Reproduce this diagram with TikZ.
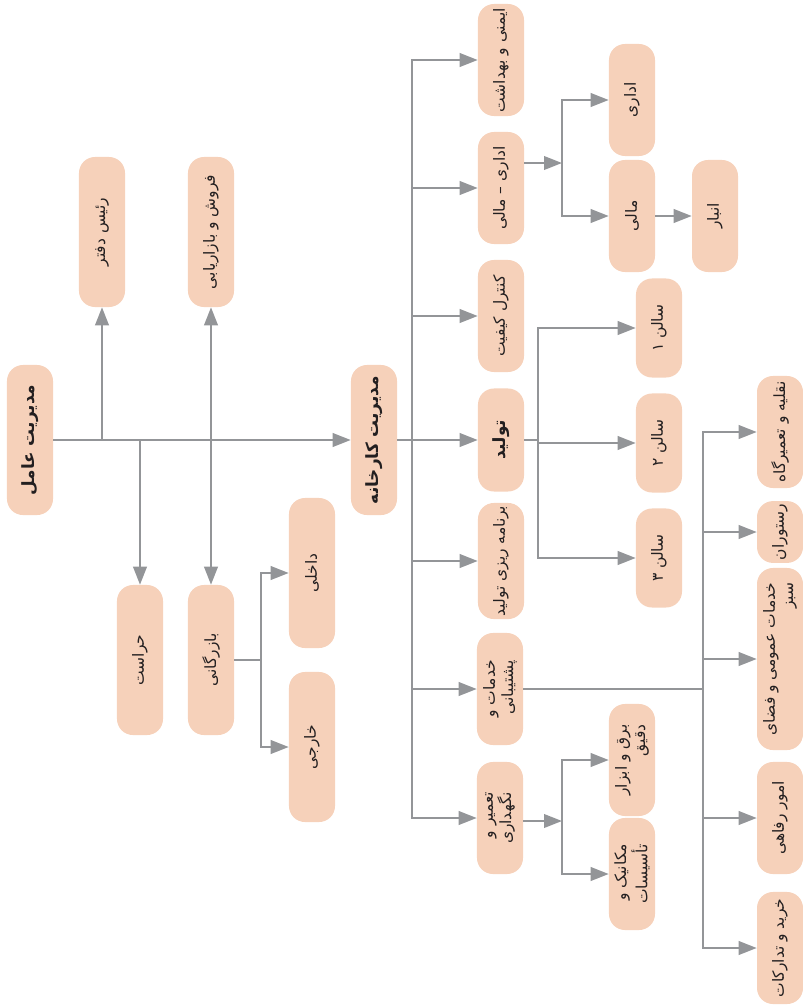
\documentclass[tikz,border=0pt]{standalone}
\usepackage{fontspec}
\newfontfamily\fa[Script=Arabic]{DejaVu Sans}
\TeXXeTstate=1
\definecolor{peach}{HTML}{F6D1BA}
\definecolor{wire}{HTML}{939598}
\definecolor{ink}{HTML}{231F20}
\usetikzlibrary{arrows.meta, positioning}
\newcommand{\rl}[1]{\beginR #1\endR}
\tikzset{
  unit/.style={fill=peach, rounded corners=4mm, rotate=90, align=right, text=ink,
               font=\fa\fontsize{11}{13}\selectfont, minimum height=11.5mm, minimum width=28mm, inner sep=2pt},
  tall/.style={minimum width=37.5mm},
  hall/.style={minimum width=24.75mm},
  head/.style={font=\fa\bfseries\fontsize{12}{14}\selectfont},
  flow/.style={-{Triangle[length=4.5mm,width=3.4mm]}, line width=1.4pt, color=wire},
  twoway/.style={{Triangle[length=4.5mm,width=3.4mm]}-{Triangle[length=4.5mm,width=3.4mm]}, line width=1.4pt, color=wire},
  link/.style={line width=1.4pt, color=wire},
}
\begin{document}
\begin{tikzpicture}[x=0.025cm,y=-0.025cm]
\useasboundingbox (0,0) rectangle (803,1008);
\node[unit,tall,head] (gm) at (30,440) {\rl{مدیریت عامل}};
\node[unit,tall] (chief) at (102,232) {\rl{رئیس دفتر}};
\node[unit,tall] (sales) at (211,232) {\rl{فروش و بازاریابی}};
\node[unit,tall] (guard) at (140,660) {\rl{حراست}};
\node[unit,tall] (trade) at (211,660) {\rl{بازرگانی}};
\node[unit,tall] (domestic) at (312,573) {\rl{داخلی}};
\node[unit,tall] (foreign) at (312,747) {\rl{خارجی}};
\node[unit,tall,head] (fm) at (374,440) {\rl{مدیریت کارخانه}};
\node[unit] (safety) at (501,60) {\rl{ایمنی و بهداشت}};
\node[unit] (admin) at (501,188) {\rl{اداری – مالی}};
\node[unit] (qc) at (501,316) {\rl{کنترل کیفیت}};
\node[unit,head,minimum width=25.75mm] (tolid) at (501,440) {\rl{تولید}};
\node[unit] (plan) at (501,561) {\rl{برنامه ریزی تولید}};
\node[unit] (support) at (500,689) {\rl{خدمات و}\\\rl{پشتیبانی}};
\node[unit] (repair) at (500,818) {\rl{تعمیر و}\\\rl{نگهداری}};
\node[unit] (office) at (632,100) {\rl{اداری}};
\node[unit] (finance) at (632,216) {\rl{مالی}};
\node[unit] (store) at (715,216) {\rl{انبار}};
\node[unit,hall] (hall1) at (659,328) {\rl{سالن ۱}};
\node[unit,hall] (hall2) at (659,443) {\rl{سالن ۲}};
\node[unit,hall] (hall3) at (659,558) {\rl{سالن ۳}};
\node[unit] (elec) at (632,760) {\rl{برق و ابزار}\\\rl{دقیق}};
\node[unit] (mech) at (632,874) {\rl{مکانیک و}\\\rl{تأسیسات}};
\node[unit] (transport) at (780,432) {\rl{نقلیه و تعمیرگاه}};
\node[unit,minimum width=15.25mm] (restaurant) at (780,532) {\rl{رستوران}};
\node[unit,minimum width=45.5mm] (public) at (780,659) {\rl{خدمات عمومی و فضای}\\\rl{سبز}};
\node[unit] (welfare) at (780,818) {\rl{امور رفاهی}};
\node[unit] (purchase) at (780,948) {\rl{خرید و تدارکات}};
\coordinate (tj) at (261,660);
\coordinate (fj) at (412,440);
\coordinate (aj) at (562,163);
\coordinate (pj) at (538,440);
\coordinate (sj) at (703,689);
\coordinate (rj) at (562,821);
\draw[flow] (gm) -- (fm);
\draw[flow] (chief |- gm) -- (chief);
\draw[flow] (guard |- gm) -- (guard);
\draw[twoway] (sales) -- (trade);
\draw[link] (trade) -- (tj);
\draw[flow] (tj) |- (domestic);
\draw[flow] (tj) |- (foreign);
\draw[flow] (fm) -- (tolid);
\foreach \n in {safety,admin,qc,plan,support,repair}
  \draw[flow] (fj) |- (\n);
\draw[flow] (admin.south |- aj) -- (aj);
\draw[flow] (aj) |- (office);
\draw[flow] (aj) |- (finance);
\draw[flow] (finance) -- (store);
\draw[link] (tolid) -- (pj);
\foreach \n in {hall1,hall2,hall3}
  \draw[flow] (pj) |- (\n);
\draw[flow] (repair.south |- rj) -- (rj);
\draw[flow] (rj) |- (elec);
\draw[flow] (rj) |- (mech);
\draw[link] (support) -- (sj);
\foreach \n in {transport,restaurant,public,welfare,purchase}
  \draw[flow] (sj) |- (\n);
\end{tikzpicture}
\end{document}
